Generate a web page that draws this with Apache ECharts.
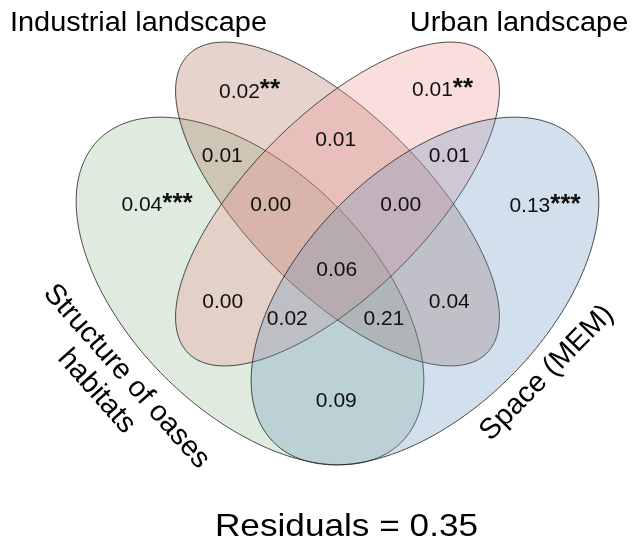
<!DOCTYPE html>
<html>
<head>
<meta charset="utf-8">
<script src="https://cdn.jsdelivr.net/npm/echarts@6/dist/echarts.min.js"></script>
<style>
  html, body { margin: 0; padding: 0; background: #fff; }
  #chart { width: 633px; height: 544px; }
</style>
</head>
<body>
<div id="chart"></div>
<script>
// Variance partitioning among four explanatory sets
const setNames = ['Structure of oases\nhabitats', 'Industrial landscape', 'Urban landscape', 'Space (MEM)'];
// region membership codes: H = habitats, I = industrial, U = urban, M = space (MEM)
const regionSets = ['H', 'I', 'U', 'M', 'HI', 'IU', 'UM', 'HIU', 'IUM', 'HIUM', 'HU', 'IM', 'HUM', 'HIM', 'HM'];
const regionValues = [0.04, 0.02, 0.01, 0.13, 0.01, 0.01, 0.01, 0.00, 0.00, 0.06, 0.00, 0.04, 0.02, 0.21, 0.09];
const regionStars = ['***', '**', '**', '***', '', '', '', '', '', '', '', '', '', '', ''];
const residual = 0.35;

// ---- layout (diagram units, y grows downward) ----
const setColors = ['rgba(150,190,150,0.3)', 'rgba(172,110,85,0.3)', 'rgba(238,145,145,0.3)', 'rgba(105,148,192,0.3)'];
const ellipseLayout = [
  { cx: 250,   cy: 291, a: 214, b: 121, angle: 45 },
  { cx: 337.5, cy: 204, a: 211, b: 89,  angle: 45 },
  { cx: 337.5, cy: 204, a: 211, b: 89,  angle: -45 },
  { cx: 425,   cy: 291, a: 214, b: 121, angle: -45 }
];
const regionAnchors = [
  [157, 205.5], [249.5, 92], [442.5, 90.5], [545, 206.5],
  [222.3, 156.7], [335.7, 140], [449.3, 156.7],
  [270.7, 205], [400.7, 205], [336.7, 270.7],
  [222.7, 302.7], [449.3, 302.7], [287.3, 319.3], [384, 319.3], [336.3, 401]
];

const FONT = '"Liberation Sans", Arial, Helvetica, sans-serif';
const LABEL_SIZE = 21, STAR_SIZE = 26, LABEL_SX = 1.0;

const measureCtx = document.createElement('canvas').getContext('2d');
function textWidth(str, size, weight) {
  measureCtx.font = (weight || 'normal') + ' ' + size + 'px ' + FONT;
  return measureCtx.measureText(str).width;
}

function textEl(str, x, y, opts) {
  opts = opts || {};
  const align = opts.align || 'center';
  return {
    type: 'text',
    x: x, y: y,
    rotation: opts.rotation || 0,
    scaleX: opts.scaleX || 1,
    silent: true,
    style: {
      text: str,
      fontSize: opts.size,
      fontFamily: FONT,
      fontWeight: opts.weight || 'normal',
      fill: opts.color || '#000',
      align: align, textAlign: align,
      verticalAlign: 'middle', textVerticalAlign: 'middle'
    }
  };
}

const chart = echarts.init(document.getElementById('chart'), null, { renderer: 'canvas' });

const option = {
  animation: false,
  backgroundColor: '#fff',
  grid: { left: 0, right: 0, top: 0, bottom: 0, containLabel: false },
  xAxis: { type: 'value', min: 0, max: 633, show: false },
  yAxis: { type: 'value', min: 0, max: 544, inverse: true, show: false },
  series: [
    {
      // the four set ellipses, drawn in order with translucent fills
      type: 'custom',
      silent: true,
      data: setNames.map((n, i) => ({ name: n, value: [i] })),
      renderItem: function (params, api) {
        const e = ellipseLayout[params.dataIndex];
        const phi = e.angle * Math.PI / 180;
        const pts = [];
        const N = 240;
        for (let k = 0; k < N; k++) {
          const t = 2 * Math.PI * k / N;
          const px = e.cx + e.a * Math.cos(t) * Math.cos(phi) - e.b * Math.sin(t) * Math.sin(phi);
          const py = e.cy + e.a * Math.cos(t) * Math.sin(phi) + e.b * Math.sin(t) * Math.cos(phi);
          pts.push(api.coord([px, py]));
        }
        return {
          type: 'polygon',
          shape: { points: pts },
          style: { fill: setColors[params.dataIndex], stroke: 'rgba(35,35,35,0.9)', lineWidth: 0.9 }
        };
      }
    },
    {
      // fraction of explained variation in every region
      type: 'custom',
      silent: true,
      z: 5,
      data: regionSets.map((s, i) => ({ name: s, value: [regionAnchors[i][0], regionAnchors[i][1], regionValues[i]] })),
      renderItem: function (params, api) {
        const i = params.dataIndex;
        const p = api.coord([api.value(0), api.value(1)]);
        const valStr = api.value(2).toFixed(2);
        const stars = regionStars[i];
        if (!stars) {
          return textEl(valStr, p[0], p[1], { size: LABEL_SIZE, scaleX: LABEL_SX, color: '#111' });
        }
        const wV = textWidth(valStr, LABEL_SIZE) * LABEL_SX;
        const wS = textWidth(stars, STAR_SIZE, 'bold') * LABEL_SX;
        const left = p[0] - (wV + wS) / 2;
        return {
          type: 'group',
          children: [
            textEl(valStr, left, p[1], { size: LABEL_SIZE, scaleX: LABEL_SX, align: 'left', color: '#111' }),
            textEl(stars, left + wV, p[1] - 2, { size: STAR_SIZE, weight: 'bold', scaleX: LABEL_SX, align: 'left', color: '#111' })
          ]
        };
      }
    }
  ],
  graphic: (function () {
    const hab = setNames[0].split('\n');
    const deg = Math.PI / 180;
    return [
      textEl(setNames[1], 138.5, 24, { size: 27, scaleX: 1.07 }),
      textEl(setNames[2], 519, 24, { size: 27, scaleX: 1.07 }),
      textEl(hab[0], 126.5, 376.5, { size: 29, rotation: -48.5 * deg }),
      textEl(hab[1], 96.5, 391.5, { size: 29, rotation: -48.5 * deg }),
      textEl(setNames[3], 547, 373, { size: 29, rotation: 45.5 * deg }),
      textEl('Residuals = ' + residual.toFixed(2), 346.5, 527.5, { size: 32, scaleX: 1.1 })
    ];
  })()
};

chart.setOption(option);
</script>
</body>
</html>
